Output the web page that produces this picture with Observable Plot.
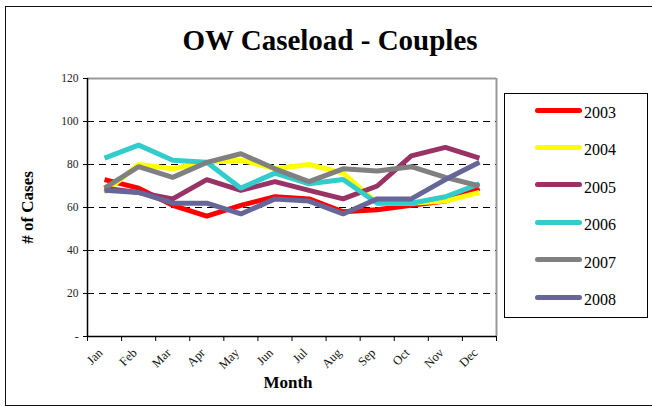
<!DOCTYPE html>
<html>
<head>
<meta charset="utf-8">
<script src="https://cdn.jsdelivr.net/npm/d3@7"></script>
<script src="https://cdn.jsdelivr.net/npm/@observablehq/plot@0.6"></script>
<style>
  html, body { margin: 0; padding: 0; background: #fff; overflow: hidden; }
  #wrap { position: relative; width: 652px; height: 409px; overflow: hidden; font-family: "Liberation Serif", "Times New Roman", serif; }
  #frame { position: absolute; left: 5px; top: 6px; width: 700px; height: 400px; border: 1.5px solid #111; box-sizing: border-box; }
  .abs { position: absolute; line-height: 1; white-space: nowrap; color: #000; font-family: "Liberation Serif", "Times New Roman", serif; }
  #chart { position: absolute; left: 0; top: 0; }
  #chart svg, #chart svg text { font-family: "Liberation Serif", "Times New Roman", serif !important; }
</style>
</head>
<body>
<div id="wrap">
  <div id="frame"></div>
  <div id="chart"></div>
</div>
<script>
const months = ["Jan","Feb","Mar","Apr","May","Jun","Jul","Aug","Sep","Oct","Nov","Dec"];
const years = ["2003","2004","2005","2006","2007","2008"];
const colors = ["#FF0000","#FFFF00","#993366","#33CCCC","#808080","#666699"];
const s2003 = [73,69,61,56,61,65,64,58,59,61,63,69];
const s2004 = [67,80,78,81,82,78,80,76,62,62,63,67];
const s2005 = [69,67,64,73,68,72,68,64,70,84,88,83];
const s2006 = [83,89,82,81,69,76,71,73,62,62,65,71];
const s2007 = [69,79,74,81,85,78,72,78,77,79,74,70];
const s2008 = [68,67,62,62,57,64,63,57,64,64,73,81];
const yTicks = [0,20,40,60,80,100,120];
const gridTicks = [20,40,60,80,100];
const titleText = "OW Caseload - Couples";
const xLabel = "Month";
const yLabel = "# of Cases";

const series = [s2003, s2004, s2005, s2006, s2007, s2008];
const rows = [];
series.forEach((s, k) => s.forEach((v, i) => rows.push({year: years[k], m: i + 0.5, value: v})));
const monthPos = months.map((m, i) => ({m, x: i + 0.5}));
const bounds = d3.range(months.length + 1);

const chart = Plot.plot({
  width: 652,
  height: 409,
  marginLeft: 87,
  marginRight: 156,
  marginTop: 78,
  marginBottom: 73,
  style: {fontFamily: "'Liberation Serif', 'Times New Roman', serif", background: "transparent", color: "#000"},
  x: {domain: [0, months.length]},
  y: {domain: [0, 120]},
  color: {domain: years, range: colors},
  marks: [
    Plot.ruleY(gridTicks, {stroke: "#000", strokeWidth: 1, strokeDasharray: "7,5"}),
    Plot.ruleY([120], {stroke: "#999", strokeWidth: 2}),
    Plot.ruleX([months.length], {stroke: "#999", strokeWidth: 2}),
    Plot.line(rows, {x: "m", y: "value", z: "year", stroke: "year", strokeWidth: 5, strokeLinejoin: "miter", strokeLinecap: "butt"}),
    Plot.ruleX([0], {stroke: "#000", strokeWidth: 1.5}),
    Plot.ruleY([0], {stroke: "#000", strokeWidth: 1.5}),
    Plot.axisY({ticks: yTicks, tickSize: 4, tickPadding: 5, tickFormat: d => d === 0 ? "-" : String(d), label: null, fontSize: 11.5, fill: "#222"}),
    Plot.axisX({ticks: bounds, tickSize: 5, tickFormat: () => "", label: null}),
    Plot.text(monthPos, {x: "x", frameAnchor: "bottom", text: "m", rotate: -45, textAnchor: "end", dy: 17, dx: -1, fontSize: 12.5, fill: "#111"})
  ]
});
document.getElementById("chart").appendChild(chart);

const wrap = document.getElementById("wrap");
function addText(txt, css) {
  const d = document.createElement("div");
  d.className = "abs";
  d.textContent = txt;
  Object.assign(d.style, css);
  wrap.appendChild(d);
  return d;
}
// Title
addText(titleText, {left: "0px", width: "660px", textAlign: "center", top: "25.5px", fontSize: "29px", fontWeight: "bold"});
// X axis title
addText(xLabel, {left: "188px", width: "200px", textAlign: "center", top: "374px", fontSize: "17px", fontWeight: "bold"});
// Y axis title
addText(yLabel, {left: "-33px", width: "120px", textAlign: "center", top: "198.5px", fontSize: "17px", fontWeight: "bold", transform: "rotate(-90deg)", transformOrigin: "50% 50%"});

// Legend
const box = document.createElement("div");
Object.assign(box.style, {position: "absolute", left: "504px", top: "93px", width: "144px", height: "225px", border: "1px solid #000", boxSizing: "border-box", background: "#fff"});
wrap.appendChild(box);
years.forEach((y, i) => {
  const cy = 110 + i * 37.4;
  const sw = document.createElement("div");
  Object.assign(sw.style, {position: "absolute", left: "535px", top: (cy - 2.5) + "px", width: "47px", height: "5px", borderRadius: "2.5px", background: colors[i]});
  wrap.appendChild(sw);
  addText(y, {left: "584px", top: (cy + 8.3 - 13.4) + "px", fontSize: "16px"});
});
</script>
</body>
</html>
